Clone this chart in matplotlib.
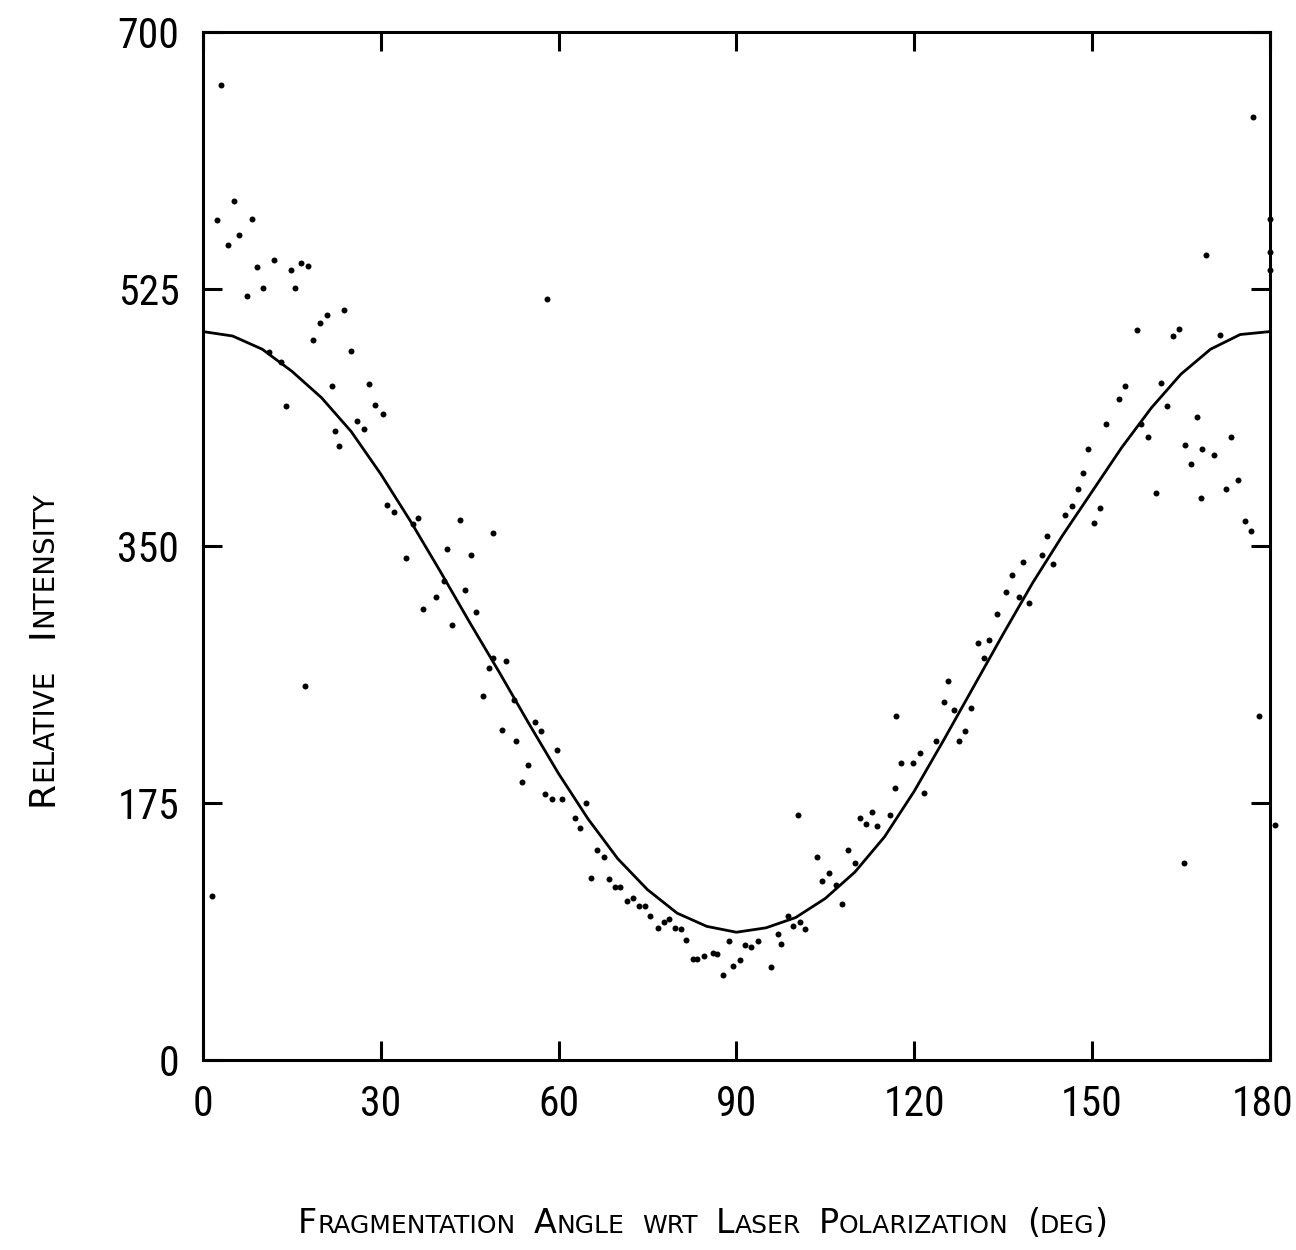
import matplotlib
matplotlib.use("Agg")
import matplotlib.pyplot as plt
from matplotlib import font_manager
from matplotlib.transforms import ScaledTranslation

# measured points (angle in deg, relative intensity)
angle = [3.1, 5.3, 2.3, 8.3, 6.0, 4.3, 9.1, 12.0, 14.8, 16.5, 17.7, 7.4, 10.1, 15.6,
         58.0, 23.8, 20.9, 19.7, 18.6, 25.0, 21.8, 28.0, 29.1, 30.3, 14.0, 11.2, 13.1,
         26.0, 27.1, 22.2, 22.9, 31.1, 32.2, 36.3, 35.5, 43.3, 48.9, 34.2, 41.2, 45.2,
         40.6, 44.2, 39.3, 37.2, 46.1, 42.1, 49.0, 51.1, 48.3, 47.3, 52.5, 17.2, 56.0,
         57.0, 50.4, 52.9, 59.8, 54.8, 53.9, 57.7, 58.9, 60.6, 64.6, 62.8, 63.6,
         66.4, 67.6, 65.5, 68.5, 69.6, 70.4, 71.5, 72.5, 73.6, 74.6, 75.5, 76.7, 77.8,
         78.7, 79.7, 80.6, 81.5, 82.7, 83.4, 84.6, 86.0, 86.7, 87.7, 89.5, 90.6, 88.8,
         91.5, 92.5, 93.7, 95.8, 97.0, 97.5, 98.7, 99.5, 100.8, 101.6, 100.4, 103.6,
         104.5, 105.6, 106.8, 107.9, 108.8, 110.0, 110.8, 111.9, 112.8, 113.8, 115.9,
         116.9, 116.8, 117.8, 119.8, 121.0, 121.6, 123.6,
         127.5, 128.5, 126.7, 125.0, 129.5, 125.7, 131.7, 130.7, 132.7, 133.9, 137.6,
         139.4, 135.5, 136.5, 138.3, 141.6, 143.5, 142.4, 145.5, 146.6, 147.7, 148.5,
         149.4, 150.4, 151.3, 152.4, 154.5, 155.5, 157.6, 158.2, 159.5, 161.6, 162.6,
         163.6, 164.6, 160.8, 165.7, 166.7, 167.7, 168.5, 168.4, 170.6, 171.6, 173.4,
         172.6, 174.7, 175.8, 176.8, 178.2,
         177.2, 169.2, 180.0, 180.0, 180.0, 180.9, 165.6, 1.6]
intensity = [664, 585, 572, 573, 562, 555, 540, 545, 538, 543, 541, 520, 526, 526,
             518, 511, 507, 502, 490, 483, 459, 460, 446, 440, 445, 482, 475,
             435, 430, 428, 418, 378, 373, 369, 365, 368, 359, 342, 348, 344,
             326, 320, 315, 307, 305, 296, 274, 272, 267, 248, 245, 255, 230,
             224, 225, 217, 211, 201, 189, 181, 178, 178, 175, 165, 158,
             143, 138, 124, 123, 118, 118, 108, 110, 105, 105, 98, 90, 94,
             96, 90, 89, 82, 69, 69, 71, 73, 72, 58, 64, 68, 81,
             78, 77, 81, 63, 86, 79, 98, 91, 94, 89, 167, 138,
             122, 127, 119, 106, 143, 134, 165, 161, 169, 159, 167,
             234, 185, 202, 202, 209, 182, 217,
             217, 224, 238, 244, 240, 258, 274, 284, 286, 304, 315,
             311, 319, 330, 339, 344, 338, 357, 371, 377, 389, 400,
             416, 366, 376, 433, 450, 459, 497, 433, 424, 461, 445,
             493, 498, 386, 419, 406, 438, 416, 383, 412, 494, 424,
             389, 395, 367, 360, 234,
             642, 548, 573, 550, 538, 160, 134, 112]

# fitted curve
fit_angle = [0, 5, 10, 15, 20, 25, 30, 35, 40, 45, 50, 55, 60, 65, 70, 75, 80, 85, 90,
             95, 100, 105, 110, 115, 120, 125, 130, 135, 140, 145, 150, 155, 160, 165,
             170, 175, 180]
fit_intensity = [496, 493, 484, 469, 451, 428, 399, 367, 333, 298, 264, 229, 195, 164,
                 137, 116, 100, 91, 87, 90, 97, 110, 128, 152, 183, 218, 254, 290, 325,
                 357, 387, 417, 444, 467, 484, 494, 496]

x_ticks = [0, 30, 60, 90, 120, 150, 180]
y_ticks = [0, 175, 350, 525, 700]
x_label = "Fragmentation Angle wrt Laser Polarization (deg)"
y_label = "Relative Intensity"

# narrow face for the tick numbers if there is one
fonts = font_manager.fontManager.ttflist
names = {f.name for f in fonts}
tick_font, tick_stretch = "Roboto", "normal"
for cand in ["Liberation Sans Narrow", "Roboto Condensed", "Open Sans Condensed",
             "Noto Sans Condensed"]:
    if cand in names:
        tick_font = cand
        break
else:
    if any(f.name == "DejaVu Sans" and f.stretch == "condensed" for f in fonts):
        tick_font, tick_stretch = "DejaVu Sans", "condensed"
    elif "Roboto" not in names:
        tick_font = "DejaVu Sans"
label_font = "DejaVu Sans"

fig = plt.figure(figsize=(12.96, 12.5), dpi=100)
ax = fig.add_axes([0.1566, 0.152, 0.8232, 0.8224])

ax.plot(fit_angle, fit_intensity, color="black", lw=2.0, solid_joinstyle="round")
ax.plot(angle, intensity, "o", color="black", ms=4.3, mew=0, clip_on=False)

ax.set_xlim(0, 180)
ax.set_ylim(0, 700)
ax.set_xticks(x_ticks)
ax.set_yticks(y_ticks)
for sp in ax.spines.values():
    sp.set_linewidth(2.2)
ax.tick_params(direction="in", length=14, width=2.2, top=True, right=True,
               labelsize=30)
ax.tick_params(axis="x", pad=17)
ax.tick_params(axis="y", pad=17)
for lab in ax.get_xticklabels() + ax.get_yticklabels():
    lab.set_family(tick_font)
    lab.set_stretch(tick_stretch)
# keep the last number inside the page
last = ax.get_xticklabels()[-1]
last.set_transform(last.get_transform() + ScaledTranslation(-5 / 72, 0, fig.dpi_scale_trans))


def small_caps(text, x, y, big, small, gap, vertical=False):
    # split into runs: lowercase -> small capitals, the rest full size
    runs = []
    for wi, word in enumerate(text.split(" ")):
        for ci, ch in enumerate(word):
            is_big = not ch.islower()
            if runs and ci > 0 and runs[-1][1] == is_big:
                runs[-1][0] += ch.upper()
            else:
                runs.append([ch.upper(), is_big, ci == 0 and wi > 0])
    shift = 0.21 * (big - small)
    first = prev = None
    for s, is_big, new_word in runs:
        size = big if is_big else small
        d = 0 if is_big else shift
        g = gap if new_word else 0
        if first is None:
            prev = ax.annotate(s, xy=(x, y), xycoords="figure fraction",
                               fontsize=size, family=label_font,
                               rotation=90 if vertical else 0,
                               ha="right" if vertical else "left", va="bottom")
            first = prev
        elif vertical:
            prev = ax.annotate(s, xy=(1, 1), xycoords=(first, prev),
                               xytext=(-d, g), textcoords="offset points",
                               fontsize=size, family=label_font, rotation=90,
                               ha="right", va="bottom")
        else:
            prev = ax.annotate(s, xy=(1, 0), xycoords=(prev, first),
                               xytext=(g, d), textcoords="offset points",
                               fontsize=size, family=label_font,
                               ha="left", va="bottom")


small_caps(x_label, 298 / 1296, 1 - 1240 / 1250, 24, 18, 13)
small_caps(y_label, 60 / 1296, 1 - 806 / 1250, 26, 20, 22, vertical=True)

fig.savefig("out.png", dpi=100, facecolor="white")
